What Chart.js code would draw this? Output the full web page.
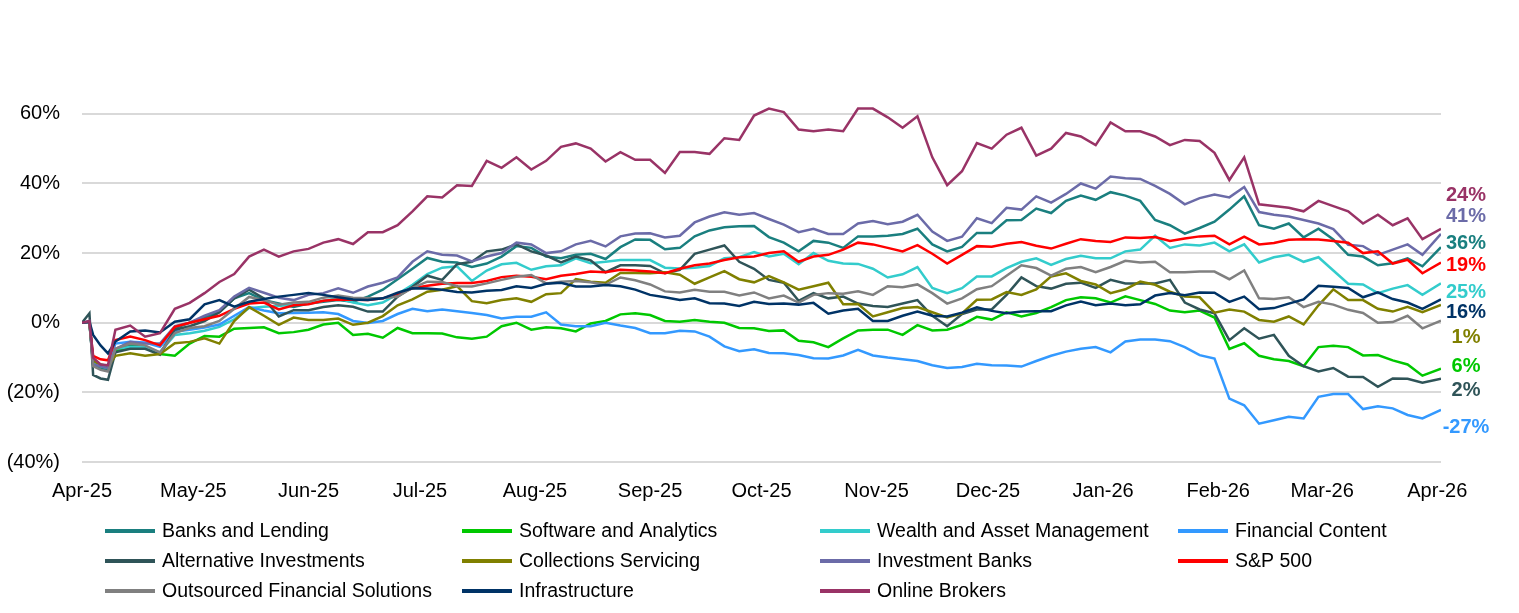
<!DOCTYPE html>
<html>
<head>
<meta charset="utf-8">
<script src="https://cdn.jsdelivr.net/npm/chart.js@4.4.1/dist/chart.umd.min.js"></script>
<style>
html, body { margin: 0; padding: 0; background: #fff; }
#wrap { width: 1519px; height: 613px; }
</style>
</head>
<body>
<div id="wrap"><canvas id="chart" width="1519" height="613"></canvas></div>
<script>
// days since 1 Apr 2025
const days = [0, 2, 3, 5, 7, 9, 13, 17, 21, 25, 29, 33, 37, 41, 45, 49, 53, 57, 61, 65, 69, 73,
  77, 81, 85, 89, 93, 97, 101, 105, 109, 113, 117, 121, 125, 129, 133, 137, 141, 145, 149, 153,
  157, 161, 165, 169, 173, 177, 181, 185, 189, 193, 197, 201, 205, 209, 213, 217, 221, 225, 229, 233,
  237, 241, 245, 249, 253, 257, 261, 265, 269, 273, 277, 281, 285, 289, 293, 297, 301, 305, 309, 313,
  317, 321, 325, 329, 333, 337, 341, 345, 349, 353, 357, 361, 366];

const monthDays = [0, 30, 61, 91, 122, 153, 183, 214, 244, 275, 306, 334, 365];
const monthLabels = ['Apr-25', 'May-25', 'Jun-25', 'Jul-25', 'Aug-25', 'Sep-25', 'Oct-25',
  'Nov-25', 'Dec-25', 'Jan-26', 'Feb-26', 'Mar-26', 'Apr-26'];
const yTicks = [-40, -20, 0, 20, 40, 60];

const seriesNames = ['Banks and Lending', 'Software and Analytics', 'Wealth and Asset Management',
  'Financial Content', 'Alternative Investments', 'Collections Servicing', 'Investment Banks',
  'S&P 500', 'Outsourced Financial Solutions', 'Infrastructure', 'Online Brokers'];

const banksLending = [0, 0, -12, -13, -13.5, -8, -6.5, -7, -9, -1.5, 0, 1.5,
  3, 7, 8.5, 6.5, 5.5, 4.5, 5.5, 6, 6.5, 6,
  7.5, 9.5, 12.5, 15.5, 18.6, 17.5, 17.3, 16, 17, 19,
  22, 21.5, 19, 18.5, 19.5, 19.8, 18.3, 21.7, 23.9, 23.8,
  21.1, 21.5, 24.8, 26.5, 27.4, 27.7, 27.8, 24.6, 23, 20.5,
  23.5, 23, 21.5, 24.8, 24.8, 25, 25.5, 27, 22.5, 20.5,
  21.8, 25.8, 25.8, 29.4, 29.5, 32.8, 31.5, 35, 36.5, 35.3,
  37.5, 36.5, 35, 29.5, 28, 25.6, 27.2, 29, 32.5, 36.3,
  28, 27, 28.5, 24.5, 27, 23.9, 19.5, 19, 16.5, 17.1,
  18.5, 16.2, 21.7];
const softwareAnalytics = [0, 0, -11, -12.5, -12.5, -8, -7, -7, -9, -9.5, -6, -3.8,
  -4, -1.7, -1.5, -1.3, -3, -2.7, -2, -0.5, 0, -3.5,
  -3.2, -4.3, -1.5, -3, -3, -3.1, -4.2, -4.6, -4, -1,
  0, -2, -1.3, -1.6, -2.5, -0.2, 0.5, 2.4, 2.7, 2.2,
  0.5, 0.3, 0.8, 0.3, 0, -1.5, -1.6, -2.4, -2.2, -5.2,
  -5.6, -7, -4.5, -2.2, -2, -2, -3.5, -0.7, -2.2, -2,
  -0.6, 1.7, 0.9, 3, 1.8, 2.8, 4.5, 6.5, 7.3, 7,
  5.8, 7.6, 6.5, 5.4, 3.5, 3, 3.5, 1.5, -7.5, -5.9,
  -9.5, -10.5, -11, -12.5, -7, -6.6, -7, -9.4, -9.3, -10.8,
  -12, -15.2, -13.2];
const wealthAsset = [0, 0, -11.5, -12.5, -13, -7.5, -7, -7, -8.5, -3.5, -3, -2.3,
  -1.2, 1, 4.2, 4.6, 4.8, 5.2, 5.5, 6.3, 7, 5.8,
  5, 5.8, 8.2, 10.9, 14, 15.8, 16.2, 12, 15, 16.8,
  17.2, 15.2, 16.2, 16.5, 18.5, 17.1, 17.5, 18, 18, 18,
  15.8, 15.6, 15.8, 16.3, 18.5, 18.8, 20.3, 19, 19.8, 16.8,
  20, 17.8, 17, 16.9, 15.5, 13, 13.9, 16, 10, 8.5,
  9.9, 13.3, 13.3, 15.7, 17.5, 18.5, 16.6, 18.3, 19.2, 18.5,
  18.5, 20.5, 21, 25, 21.5, 22.5, 22.2, 23, 20.5, 22.5,
  17.3, 18.8, 19.5, 17.5, 18.8, 15, 11.2, 11, 8.5, 9.8,
  10.8, 8, 11.3];
const financialContent = [0, 0, -11, -12, -12.5, -6, -5.5, -5.7, -6.9, -2.5, -2, -1.4,
  -0.5, 2, 4.5, 3.5, 2.7, 2.8, 2.9, 3, 2.5, 0.5,
  -0.1, 0.5, 2.5, 4, 3.3, 3.8, 3.3, 2.8, 2.2, 1.2,
  1.7, 1.7, 3, -0.5, -1, -1, 0, -0.8, -1.5, -3,
  -3, -2.3, -2.5, -4, -6.8, -8.2, -7.6, -8.7, -8.8, -9.3,
  -10.2, -10.3, -9.4, -7.8, -9.4, -10, -10.5, -11, -12.2, -13,
  -12.7, -11.8, -12.2, -12.3, -12.6, -11, -9.5, -8.3, -7.5, -7,
  -8.5, -5.4, -4.8, -4.8, -5.3, -7, -9.3, -10.3, -21.8, -23.7,
  -29, -28, -27, -27.5, -21.3, -20.5, -20.5, -24.8, -24, -24.6,
  -26.5, -27.5, -25];
const alternativeInv = [0, 2.7, -15, -16, -16.4, -8.5, -7.5, -7.5, -9.2, -2, -1, 0.5,
  3, 7, 9.5, 7, 1.8, 3.6, 3.6, 4.5, 5, 4.6,
  3.2, 3.2, 7.5, 10.3, 13.5, 12.3, 16.8, 17.5, 20.5, 21,
  22.5, 20.5, 19.3, 17.3, 19, 17.9, 14.5, 16.5, 16.5, 16.3,
  14.2, 15.2, 19.8, 21, 22.2, 17.5, 15.5, 12.3, 11.5, 6.3,
  8.5, 7, 7.5, 5.5, 4.8, 4.5, 5.5, 6.5, 2, -1,
  2.5, 3.8, 3.8, 8, 13, 10.5, 9.8, 11.2, 11.5, 10,
  12.3, 11.3, 11.3, 11.3, 12.3, 5.8, 3.8, 2.7, -5, -1.6,
  -4.6, -3.5, -9.5, -12.5, -14, -13, -15.5, -15.6, -18.4, -16,
  -16.1, -17.2, -16.1];
const collections = [0, 0, -11, -12, -12.5, -9.5, -8.8, -9.5, -9, -5.9, -5.5, -4.5,
  -6, 0.5, 4.5, 2, -0.6, 1.5, 0.8, 0.8, 1.2, -0.6,
  0, 1.9, 5, 6.7, 8.9, 9.5, 10.5, 6.2, 5.6, 6.5,
  7, 6, 8.2, 8.5, 12.5, 11.8, 11.5, 14.3, 14.3, 14.2,
  14.5, 13.8, 11.2, 13, 14.8, 12.5, 11.6, 13.4, 11.6, 9.5,
  10.5, 11.5, 5.3, 5.4, 1.8, 3, 4.2, 4.5, 3, 1.5,
  2.7, 6.6, 6.7, 8.8, 8, 9.6, 13.3, 14.2, 12, 11,
  8.5, 9.6, 11.8, 10.9, 8.9, 7.5, 7.3, 2.9, 3.8, 3.2,
  0.8, 0.3, 1.8, -0.5, 5, 9.6, 6.5, 6.5, 4, 3.2,
  4.6, 3, 5.1];
const investmentBanks = [0, 0.5, -12, -12.5, -13, -7.5, -5.5, -6, -6, -1, 0, 2,
  3.6, 7.5, 10, 8.6, 7.2, 6.5, 8, 8.5, 9.9, 8.6,
  10.4, 11.5, 13, 17.5, 20.5, 19.5, 19.3, 17.6, 19, 20,
  23, 22.5, 20, 20.5, 22.5, 23.5, 21.9, 24.8, 25.6, 25.7,
  24.5, 25, 28.8, 30.5, 31.7, 31, 31.5, 29.8, 28.2, 26,
  27, 25.5, 25.5, 28.5, 29.2, 28.3, 29, 31, 26.2, 23.5,
  24.7, 30, 28.6, 33, 32.5, 36.3, 34.5, 37, 40, 38.5,
  42, 41.5, 41.3, 39.3, 37, 34, 35.8, 36.8, 36, 39,
  31.8, 31, 30.5, 29.5, 28.5, 26.9, 22.4, 22, 19.5, 21,
  22.5, 19.5, 25.5];
const sp500 = [0, 0, -9.5, -10.5, -10.8, -5, -4, -5, -6.5, -1.2, 0, 1,
  2, 4, 5.5, 5.8, 3.8, 5, 5.3, 6.3, 6.7, 6.6,
  6.5, 7, 8.3, 9.9, 10.6, 11.2, 11.4, 11.4, 12, 13.1,
  13.5, 13.2, 12.5, 13.5, 14, 14.7, 14.5, 15.2, 15, 14.7,
  14.2, 15.5, 16.5, 17, 18, 18.8, 19, 20, 20.5, 17.5,
  19, 19.5, 21, 23, 22.5, 21.5, 20.5, 22.3, 19.8, 17,
  19.5, 22, 21.8, 22.7, 23.2, 22.1, 21.3, 22.7, 24, 23.5,
  23.2, 24.5, 24.3, 24.6, 23.5, 24.2, 24.8, 25, 22.5, 24.7,
  22.5, 22.9, 23.8, 24, 23.9, 23.5, 23, 20, 20.5, 17,
  18.1, 14.2, 17.3];
const outsourced = [0, 0, -12.5, -13.5, -14, -7.5, -6, -6.5, -8.5, -3, -1.5, -1,
  0.5, 4, 7.4, 6.5, 5.2, 5.8, 6, 7.2, 7.8, 7.2,
  7, 7, 7.5, 10, 11.8, 11.7, 10.5, 10.4, 11.3, 12.3,
  13.2, 13.7, 11.3, 11.8, 12, 11.6, 10.9, 13, 12.2, 11,
  9, 8.7, 9.5, 8.9, 8.9, 7.8, 8.7, 7, 7.8, 5.8,
  8, 8.5, 8.3, 9, 8, 10.5, 10.2, 11, 8.5, 5.5,
  7, 9.6, 10.5, 13.5, 16.5, 15.7, 13.5, 15.5, 16, 14.5,
  16, 17.8, 17.3, 17.5, 14.5, 14.5, 14.7, 14.7, 12.5, 15,
  7, 6.8, 7.3, 4.5, 6, 5.2, 3.7, 2.8, 0, 0.2,
  2, -1.6, 0.6];
const infrastructure = [0, 0.3, -3.5, -6.5, -8.8, -5.4, -2.5, -2.2, -2.8, 0.3, 1, 5.3,
  6.5, 4.6, 6, 6.8, 7.5, 8, 8.5, 8, 7.3, 6.7,
  6.5, 7, 8.6, 9.9, 9.8, 9.5, 8.8, 8.7, 9.2, 9.4,
  10.5, 10, 11.2, 11.5, 10.4, 10.4, 10.8, 10.5, 9.5, 8,
  7.3, 6.5, 7, 5.6, 5.5, 4.8, 6, 5.4, 5.5, 5.2,
  5.7, 2.6, 3.5, 4, 0.5, 0.5, 2, 3.2, 2, 1.8,
  2.9, 4.4, 3.4, 2.7, 3.2, 3.3, 3.3, 5, 6.1, 5,
  5.5, 5, 5.3, 7.8, 8.5, 7.9, 8.7, 8.6, 6, 7.5,
  3.9, 4.2, 5.5, 6.7, 10.6, 10.3, 10, 7.3, 8.7, 6.8,
  5.8, 4, 6.7];
const onlineBrokers = [0, 0.5, -10, -12, -12.2, -2, -0.8, -4, -3, 4, 5.7, 8.5,
  11.7, 14, 19, 21, 19, 20.5, 21.2, 23, 24, 22.6,
  26, 26, 28, 32, 36.3, 36, 39.5, 39.3, 46.5, 44.5,
  47.5, 44, 46.5, 50.5, 51.5, 50, 46.3, 49, 46.8, 46.8,
  43, 49, 49, 48.5, 53, 52.5, 59.5, 61.5, 60.5, 55.5,
  55, 55.5, 55, 61.5, 61.5, 59, 56, 59.3, 47.5, 39.5,
  43.5, 51.6, 50, 54, 56, 48, 50, 54.5, 53.5, 51,
  57.5, 55, 55, 53.5, 51, 52.5, 52.2, 48.8, 41, 47.5,
  34, 33.5, 33, 32, 35, 33.5, 32, 28.5, 31, 28,
  30, 24, 27];

const seriesValues = [banksLending, softwareAnalytics, wealthAsset, financialContent,
  alternativeInv, collections, investmentBanks, sp500, outsourced, infrastructure, onlineBrokers];

const endLabels = ['24%', '41%', '36%', '19%', '25%', '16%', '1%', '6%', '2%', '-27%'];
const endLabelSeries = [10, 6, 0, 7, 2, 9, 5, 1, 4, 3];

const colors = ['#1a7f7f', '#00c800', '#33cccc', '#3399ff', '#2f5458', '#808000',
  '#6b6ba8', '#ff0000', '#808080', '#003366', '#993366'];
const family = '"Liberation Sans", Arial, sans-serif';

const legendGrid = {
  id: 'legendGrid',
  afterDraw(chart, args, opts) {
    const ctx = chart.ctx;
    ctx.save();
    ctx.font = opts.font;
    ctx.textBaseline = 'middle';
    ctx.textAlign = 'left';
    chart.data.datasets.forEach((ds, i) => {
      const x = opts.colX[i % 4];
      const y = opts.rowY[Math.floor(i / 4)];
      ctx.strokeStyle = ds.borderColor;
      ctx.lineWidth = 4;
      ctx.beginPath();
      ctx.moveTo(x, y);
      ctx.lineTo(x + 50, y);
      ctx.stroke();
      ctx.fillStyle = '#000';
      ctx.fillText(ds.label, x + 57, y + 1);
    });
    ctx.restore();
  }
};

const endTags = {
  id: 'endTags',
  afterDraw(chart, args, opts) {
    const ctx = chart.ctx;
    const yScale = chart.scales.y;
    ctx.save();
    ctx.font = opts.font;
    ctx.textAlign = 'center';
    ctx.textBaseline = 'middle';
    endLabels.forEach((t, i) => {
      ctx.fillStyle = chart.data.datasets[endLabelSeries[i]].borderColor;
      ctx.fillText(t, opts.x, yScale.getPixelForValue(opts.at[i]));
    });
    ctx.restore();
  }
};

new Chart(document.getElementById('chart'), {
  type: 'line',
  data: {
    datasets: seriesNames.map((name, i) => ({
      label: name,
      data: days.map((d, j) => ({ x: d, y: seriesValues[i][j] })),
      borderColor: colors[i],
      backgroundColor: colors[i],
      borderWidth: 2.5,
      pointRadius: 0,
      tension: 0,
      fill: false,
      order: seriesNames.length - i
    }))
  },
  options: {
    responsive: false,
    animation: false,
    devicePixelRatio: 1,
    layout: { padding: { top: 79, right: 78, bottom: 111, left: 0 } },
    plugins: {
      legend: { display: false },
      tooltip: { enabled: false },
      legendGrid: {
        font: '19.5px ' + family,
        colX: [105, 462, 820, 1178],
        rowY: [531, 561, 591]
      },
      endTags: {
        font: 'bold 20px ' + family,
        x: 1466,
        at: [36.5, 30.4, 22.9, 16.3, 8.8, 2.8, -4.1, -12.7, -19.4, -30]
      }
    },
    scales: {
      x: {
        type: 'linear',
        min: 0,
        max: 366,
        grid: { display: false, drawTicks: false },
        border: { display: false },
        afterBuildTicks: (s) => { s.ticks = monthDays.map(v => ({ value: v })); },
        afterFit: (s) => { s.height = 40; },
        ticks: {
          autoSkip: false,
          maxRotation: 0,
          padding: 17,
          color: '#000',
          font: { size: 20, family: family },
          callback: (v, i) => monthLabels[i]
        }
      },
      y: {
        min: -40,
        max: 70,
        afterBuildTicks: (s) => { s.ticks = yTicks.map(v => ({ value: v })); },
        afterFit: (s) => { s.width = 82; },
        grid: { color: '#d9d9d9', lineWidth: 2, drawTicks: false },
        border: { display: false },
        ticks: {
          padding: 22,
          color: '#000',
          font: { size: 20, family: family },
          callback: (v) => v < 0 ? '(' + (-v) + '%)' : v + '%'
        }
      }
    }
  },
  plugins: [legendGrid, endTags]
});
</script>
</body>
</html>
